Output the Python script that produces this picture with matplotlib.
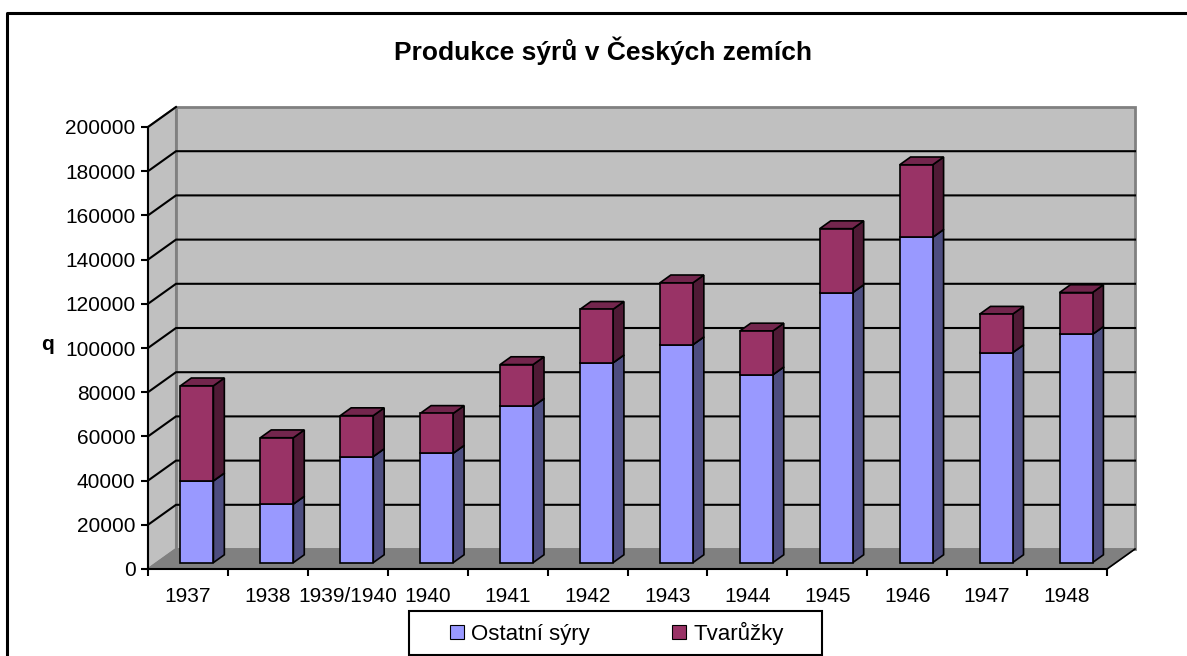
import matplotlib.pyplot as plt
from matplotlib.patches import Polygon, Patch, Rectangle

plt.rcParams['font.family'] = ['Liberation Sans', 'DejaVu Sans']

# data (q)
years = ['1937', '1938', '1939/1940', '1940', '1941', '1942',
         '1943', '1944', '1945', '1946', '1947', '1948']
ostatni = [37000, 26500, 48000, 49500, 70700, 90400,
           98600, 85000, 122200, 147200, 95000, 103300]
tvaruzky = [43000, 30000, 18500, 18000, 18900, 24200,
            28000, 19800, 28900, 32800, 17400, 18900]

blue = ('#9999FF', '#4D4D80', '#7A7ACC')
maroon = ('#993366', '#4F1A35', '#73264D')

W, H = 1187, 656
fig = plt.figure(figsize=(W / 100, H / 100), dpi=100)

# front plane of the pseudo 3D box in pixels
x0, x1, yb, yt = 148, 1107, 569, 127
ax = fig.add_axes([x0 / W, (H - yb) / H, (x1 - x0) / W, (yb - yt) / H])
n = len(years)
ymax = 200000
ax.set_xlim(0, n)
ax.set_ylim(0, ymax)

# depth of the box, in data units
DX = 28 / ((x1 - x0) / n)
DY = 20 * ymax / (yb - yt)


def poly(pts, fc, ec='black', lw=1.2, z=2):
    ax.add_patch(Polygon(pts, closed=True, facecolor=fc, edgecolor=ec,
                         linewidth=lw, clip_on=False, zorder=z))


# walls and floor
poly([(0, 0), (DX, DY), (DX, ymax + DY), (0, ymax)], '#C0C0C0', '#808080', 1.5, 0)
poly([(DX, DY), (n + DX, DY), (n + DX, ymax + DY), (DX, ymax + DY)], '#C0C0C0', '#808080', 2, 0)
poly([(0, 0), (n, 0), (n + DX, DY), (DX, DY)], '#808080', '#808080', 1, 0)
ax.plot([n, n + DX], [0, DY], color='black', lw=1.2, clip_on=False, zorder=1)

ticks = list(range(0, ymax + 1, 20000))
for v in ticks[1:-1]:
    ax.plot([0, DX, n + DX], [v, v + DY, v + DY], color='black', lw=1.5,
            clip_on=False, zorder=1)
ax.plot([0, DX], [ymax, ymax + DY], color='black', lw=1.5, clip_on=False, zorder=1)

# bars
bw = 33 / ((x1 - x0) / n)
f0, f1 = 0.32, 0.71


def box(i, lo, hi, cols):
    c = i + 0.5
    l = c - bw / 2
    r = c + bw / 2
    ox0, oy0 = f0 * DX, f0 * DY
    ox1, oy1 = f1 * DX, f1 * DY
    front = [(l + ox0, lo + oy0), (r + ox0, lo + oy0), (r + ox0, hi + oy0), (l + ox0, hi + oy0)]
    side = [(r + ox0, lo + oy0), (r + ox1, lo + oy1), (r + ox1, hi + oy1), (r + ox0, hi + oy0)]
    top = [(l + ox0, hi + oy0), (r + ox0, hi + oy0), (r + ox1, hi + oy1), (l + ox1, hi + oy1)]
    poly(side, cols[1], z=3)
    poly(top, cols[2], z=3)
    poly(front, cols[0], z=3)


for i in range(n):
    box(i, 0, ostatni[i], blue)
    box(i, ostatni[i], ostatni[i] + tvaruzky[i], maroon)

# axes
for s in ['top', 'right']:
    ax.spines[s].set_visible(False)
for s in ['left', 'bottom']:
    ax.spines[s].set_linewidth(1.5)
    ax.spines[s].set_zorder(5)
ax.patch.set_visible(False)
ax.set_yticks(ticks)
ax.set_yticklabels([str(t) for t in ticks], fontsize=15)
ax.set_xticks(range(n + 1))
ax.set_xticklabels([''] * (n + 1))
ax.set_xticks([i + 0.5 for i in range(n)], minor=True)
ax.set_xticklabels(years, minor=True, fontsize=15)
ax.tick_params(axis='y', length=5, width=1.5, pad=4)
ax.tick_params(axis='x', which='major', length=5, width=1.5)
ax.tick_params(axis='x', which='minor', length=0, pad=13)

fig.text(48 / W, 1 - 345 / H, 'q', fontsize=15, fontweight='bold', ha='center', va='center')
fig.text(603 / W, 1 - 51 / H, 'Produkce sýrů v Českých zemích', fontsize=19,
         fontweight='bold', ha='center', va='center')

# chart border (top and left visible)
fig.add_artist(plt.Line2D([7 / W, 7 / W, 1], [0, 1 - 13 / H, 1 - 13 / H],
                          color='black', lw=2.2, transform=fig.transFigure))

# legend box drawn separately so its width matches the original
fig.add_artist(Rectangle((409 / W, 1 - 655 / H), 413 / W, 44 / H, transform=fig.transFigure,
                         facecolor='white', edgecolor='black', linewidth=1.5))
handles = [Patch(facecolor=blue[0], edgecolor='black', lw=0.8),
           Patch(facecolor=maroon[0], edgecolor='black', lw=0.8)]
leg = fig.legend(handles, ['Ostatní sýry', 'Tvarůžky'], loc='center',
                 bbox_to_anchor=(617 / W, 1 - 633 / H), ncol=2, fontsize=16,
                 handlelength=0.6, handleheight=0.6, handletextpad=0.35,
                 columnspacing=3.7, frameon=False, borderaxespad=0)

fig.savefig('out.png', dpi=100)
